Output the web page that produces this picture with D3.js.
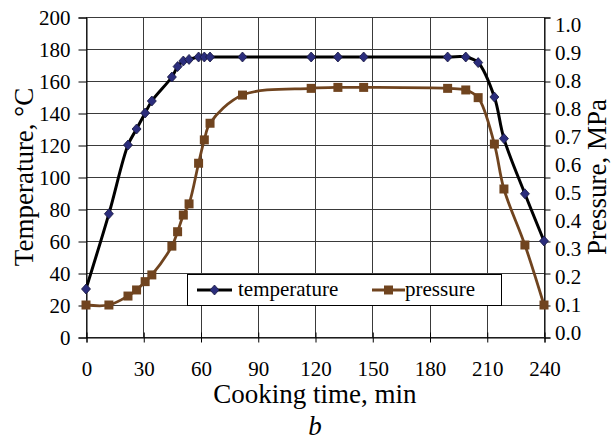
<!DOCTYPE html>
<html>
<head>
<meta charset="utf-8">
<script src="https://cdn.jsdelivr.net/npm/d3@7"></script>
<style>
  body { margin: 0; background: #fff; }
  svg text { font-family: "Liberation Serif", "Times New Roman", Times, serif !important; fill: #000; }
</style>
</head>
<body>
<script>
// data
var times = [0, 12, 22, 26.5, 31, 34.5, 45, 48, 51, 54, 59, 62, 65, 82, 118, 132, 145.5, 189.5, 199, 205.5, 214, 219, 230, 240];
var temperature = [30, 77, 120, 130, 140, 147.5, 162.5, 169, 172.5, 173.5, 175, 175, 175, 175, 175, 175, 175, 175, 175, 171.5, 150, 124, 89.5, 60];
var pressure = [0.1, 0.1, 0.128, 0.147, 0.173, 0.194, 0.284, 0.329, 0.381, 0.416, 0.543, 0.616, 0.668, 0.756, 0.777, 0.78, 0.78, 0.777, 0.772, 0.748, 0.603, 0.4625, 0.2875, 0.1];
var xTicks = [0, 30, 60, 90, 120, 150, 180, 210, 240];
var tempTicks = [0, 20, 40, 60, 80, 100, 120, 140, 160, 180, 200];
var presTicks = [0, 0.1, 0.2, 0.3, 0.4, 0.5, 0.6, 0.7, 0.8, 0.9, 1.0];
// the printed right-hand labels (as they appear, 12 of them)
var presLabels = ['1.0', '0.9', '0.8', '0.8', '0.7', '0.6', '0.5', '0.4', '0.3', '0.2', '0.1', '0.0'];

(function(){
    var W = 611, H = 446;
    var pLeft = 86, pRight = 544, pTop = 17, pBottom = 337;
    var brown = '#70441f';

    var svg = d3.select('body').append('svg')
        .attr('width', W).attr('height', H);

    var x = d3.scaleLinear().domain([0, 240]).range([pLeft, pRight]);
    var yT = d3.scaleLinear().domain([0, 200]).range([pBottom, pTop]);
    var yP = d3.scaleLinear().domain([0, 1.0]).range([pBottom, pTop]);

    //grid
    var grid = svg.append('g').attr('stroke', '#3a3a3a').attr('stroke-width', 1);
    grid.selectAll('.h').data(tempTicks).enter().append('line')
        .attr('x1', pLeft).attr('x2', pRight)
        .attr('y1', function(d){ return Math.round(yT(d)) + 0.5; })
        .attr('y2', function(d){ return Math.round(yT(d)) + 0.5; });
    grid.selectAll('.v').data(xTicks).enter().append('line')
        .attr('y1', pTop).attr('y2', pBottom)
        .attr('x1', function(d){ return Math.round(x(d)) + 0.5; })
        .attr('x2', function(d){ return Math.round(x(d)) + 0.5; });

    //axes
    var axL = svg.append('g').attr('transform', 'translate(' + (pLeft + 0.5) + ',0.5)')
        .call(d3.axisLeft(yT).tickValues(tempTicks).tickSize(8).tickPadding(8));
    var axR = svg.append('g').attr('transform', 'translate(' + (pRight + 0.5) + ',0.5)')
        .call(d3.axisRight(yP).tickValues(presTicks).tickSize(6).tickFormat(''));
    var axB = svg.append('g').attr('transform', 'translate(0.5,' + (pBottom + 0.5) + ')')
        .call(d3.axisBottom(x).tickValues(xTicks).tickSize(5).tickPadding(19));
    axB.selectAll('.tick').append('line').attr('stroke', '#000').attr('y2', -5);
    [axL, axR, axB].forEach(function(a){
        a.attr('font-family', null).attr('font-size', 21);
        a.selectAll('path, line').attr('stroke', '#000');
        a.selectAll('text').attr('fill', '#000');
    });

    var labelY = d3.scalePoint().domain(d3.range(presLabels.length)).range([25, 333]);
    svg.append('g').selectAll('text').data(presLabels).enter().append('text')
        .attr('x', 555)
        .attr('y', function(d, i){ return labelY(i); })
        .attr('dy', '0.35em')
        .attr('font-size', 21)
        .text(function(d){ return d; });

    //titles
    svg.append('text').attr('transform', 'translate(33,177) rotate(-90)')
        .attr('text-anchor', 'middle').attr('font-size', 27).text('Temperature, °C');
    svg.append('text').attr('transform', 'translate(606,177) rotate(-90)')
        .attr('text-anchor', 'middle').attr('font-size', 27).text('Pressure, MPa');
    svg.append('text').attr('x', 315).attr('y', 403)
        .attr('text-anchor', 'middle').attr('font-size', 27).text('Cooking time, min');
    svg.append('text').attr('x', 315).attr('y', 435)
        .attr('text-anchor', 'middle').attr('font-size', 27).attr('font-style', 'italic').text('b');

    //series
    var tData = times.map(function(t, i){ return [t, temperature[i]]; });
    var pData = times.map(function(t, i){ return [t, pressure[i]]; });

    var lineT = d3.line().curve(d3.curveCatmullRom.alpha(0.5))
        .x(function(d){ return x(d[0]); }).y(function(d){ return yT(d[1]); });
    var lineP = d3.line().curve(d3.curveCatmullRom.alpha(0.5))
        .x(function(d){ return x(d[0]); }).y(function(d){ return yP(d[1]); });

    svg.append('path').datum(pData).attr('d', lineP)
        .attr('fill', 'none').attr('stroke', brown).attr('stroke-width', 2.8);
    svg.append('path').datum(tData).attr('d', lineT)
        .attr('fill', 'none').attr('stroke', '#000').attr('stroke-width', 3);

    function diamond(g){
        g.attr('d', 'M0,-5L4.5,0L0,5L-4.5,0Z')
            .attr('fill', '#2b2d7c').attr('stroke', '#15153f').attr('stroke-width', 0.8);
    }
    function square(g){
        g.attr('d', 'M-4.5,-4.5H4.5V4.5H-4.5Z').attr('fill', brown);
    }

    svg.append('g').selectAll('path').data(pData).enter().append('path')
        .attr('transform', function(d){ return 'translate(' + x(d[0]) + ',' + yP(d[1]) + ')'; })
        .call(square);
    svg.append('g').selectAll('path').data(tData).enter().append('path')
        .attr('transform', function(d){ return 'translate(' + x(d[0]) + ',' + yT(d[1]) + ')'; })
        .call(diamond);

    //legend
    var legend = svg.append('g');
    legend.append('rect').attr('x', 187.5).attr('y', 274.5).attr('width', 314).attr('height', 31)
        .attr('fill', '#fff').attr('stroke', '#000').attr('stroke-width', 1);
    var items = [
        {name: 'temperature', color: '#000', x0: 197, x1: 232, tx: 238, marker: diamond},
        {name: 'pressure', color: brown, x0: 372, x1: 405, tx: 405, marker: square}
    ];
    items.forEach(function(it){
        legend.append('line').attr('x1', it.x0).attr('x2', it.x1).attr('y1', 290).attr('y2', 290)
            .attr('stroke', it.color).attr('stroke-width', 3);
        legend.append('path').attr('transform', 'translate(' + ((it.x0 + it.x1) / 2) + ',290)').call(it.marker);
        legend.append('text').attr('x', it.tx).attr('y', 296).attr('font-size', 21).text(it.name);
    });
})();
</script>
</body>
</html>
